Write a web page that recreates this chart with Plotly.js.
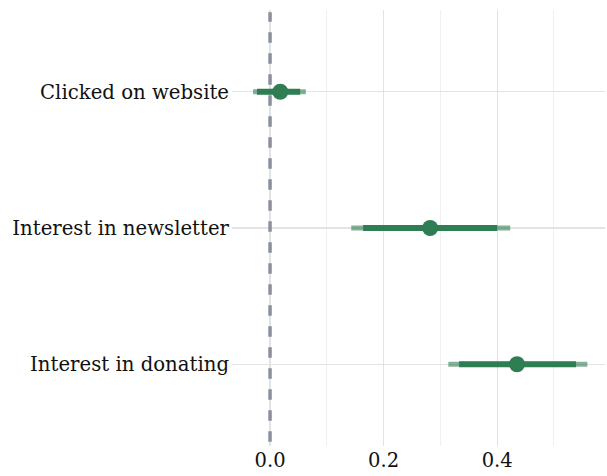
<!DOCTYPE html>
<html><head><meta charset="utf-8">
<script src="https://cdn.plot.ly/plotly-3.0.1.min.js"></script>
<style>body{margin:0;background:#fff}#c{width:607px;height:476px}</style>
</head><body><div id="c"></div>
<script>
const categories = ["Interest in donating", "Interest in newsletter", "Clicked on website"];
const estimate = [0.435, 0.282, 0.018];
const innerLo = [0.333, 0.164, -0.023];
const innerHi = [0.539, 0.400, 0.053];
const outerLo = [0.314, 0.143, -0.030];
const outerHi = [0.559, 0.423, 0.063];
const xTicks = [0.0, 0.2, 0.4];
const xTickLabels = ["0.0", "0.2", "0.4"];

function seg(lo, hi) {
  const x = [], y = [];
  categories.forEach((c, i) => { x.push(lo[i], hi[i], null); y.push(c, c, null); });
  return {x, y};
}
const o = seg(outerLo, outerHi), inn = seg(innerLo, innerHi);
const traces = [
  {type:'scatter', mode:'lines', x:o.x, y:o.y, line:{color:'rgba(46,125,83,0.6)', width:5}, hoverinfo:'skip', showlegend:false},
  {type:'scatter', mode:'lines', x:inn.x, y:inn.y, line:{color:'#2e7d53', width:6}, hoverinfo:'skip', showlegend:false},
  {type:'scatter', mode:'markers', x:estimate, y:categories, marker:{color:'#2e7d53', size:16}, showlegend:false}
];
const font = {family:'"DejaVu Serif", serif', color:'#111', size:19.7};
const layout = {
  width:607, height:476,
  margin:{l:232, r:2, t:10, b:30},
  paper_bgcolor:'#fff', plot_bgcolor:'#fff',
  font: font,
  showlegend:false,
  xaxis:{range:[-0.067, 0.59], tickvals:xTicks, ticktext:xTickLabels, showgrid:true, gridcolor:'#e3e3e3', gridwidth:1.2,
         minor:{dtick:0.1, tick0:0, showgrid:true, gridcolor:'#efefef', gridwidth:1}, zeroline:false, showline:false, ticks:'',
         tickfont:{size:19.5}, fixedrange:true},
  yaxis:{type:'category', categoryorder:'array', categoryarray:categories, range:[-0.6, 2.6], showgrid:true, gridcolor:'#e3e3e3', gridwidth:1.2,
         zeroline:false, showline:false, ticks:'', ticklabelstandoff:2, tickfont:{size:19.7}},
  shapes:[{type:'line', xref:'x', yref:'paper', x0:0, x1:0, y0:0.01, y1:0.995, line:{color:'#8a909c', width:3.5, dash:'dash'}, layer:'above'}]
};
Plotly.newPlot('c', traces, layout, {displayModeBar:false, staticPlot:true});
</script></body></html>
